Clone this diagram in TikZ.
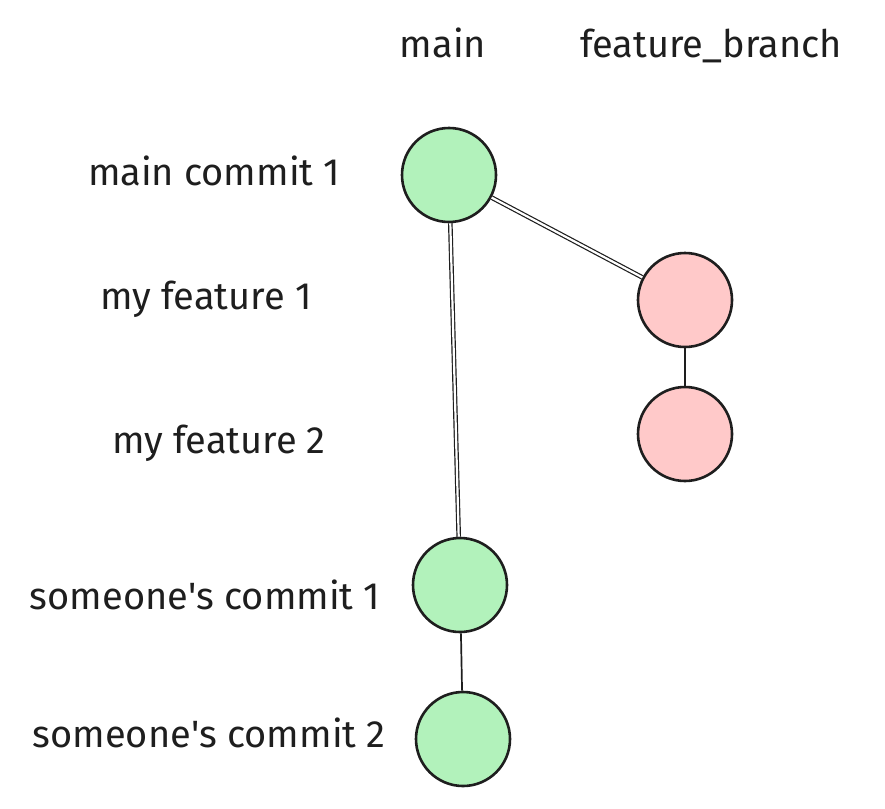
\documentclass[tikz,border=0pt]{standalone}
\usepackage{fontspec}
\setmainfont{Fira Sans}
\definecolor{ink}{HTML}{1E1E1E}
\definecolor{maingreen}{HTML}{B2F2BB}
\definecolor{featpink}{HTML}{FFC9C9}
\begin{document}
\begin{tikzpicture}[x=1pt,y=-1pt,
  commit/.style={circle,draw=ink,line width=2.6pt,minimum size=94pt,inner sep=0pt},
  maincommit/.style={commit,fill=maingreen},
  featcommit/.style={commit,fill=featpink},
  lbl/.style={text=ink,font=\fontsize{38}{42}\selectfont,anchor=base,inner sep=0pt},
  link/.style={draw=ink,line width=1.7pt},
  dlink/.style={draw=ink,double=white,double distance=2.2pt,line width=1.2pt}]
\useasboundingbox[fill=white] (0,0) rectangle (885,808);
% column headings
\node[lbl] (hmain) at (443,57) {main};
\node[lbl] (hfeat) at (711,57) {feature\_branch};
% commits
\node[maincommit] (m1) at (449,175) {};
\node[featcommit] (f1) at (685,300) {};
\node[featcommit] (f2) at (685,434) {};
\node[maincommit] (s1) at (460,585) {};
\node[maincommit] (s2) at (463,739) {};
% row labels
\node[lbl] (lm1) at (214,185) {main commit 1};
\node[lbl] (lf1) at (206,309) {my feature 1};
\node[lbl] (lf2) at (219,453) {my feature 2};
\node[lbl] (ls1) at (205,609) {someone\textquotesingle s commit 1};
\node[lbl] (ls2) at (209,747) {someone\textquotesingle s commit 2};
% connectors
\draw[dlink] (m1) -- (s1);
\draw[dlink] (m1) -- (f1);
\draw[link] (f1) -- (f2);
\draw[link] (s1) -- (s2);
\end{tikzpicture}
\end{document}
